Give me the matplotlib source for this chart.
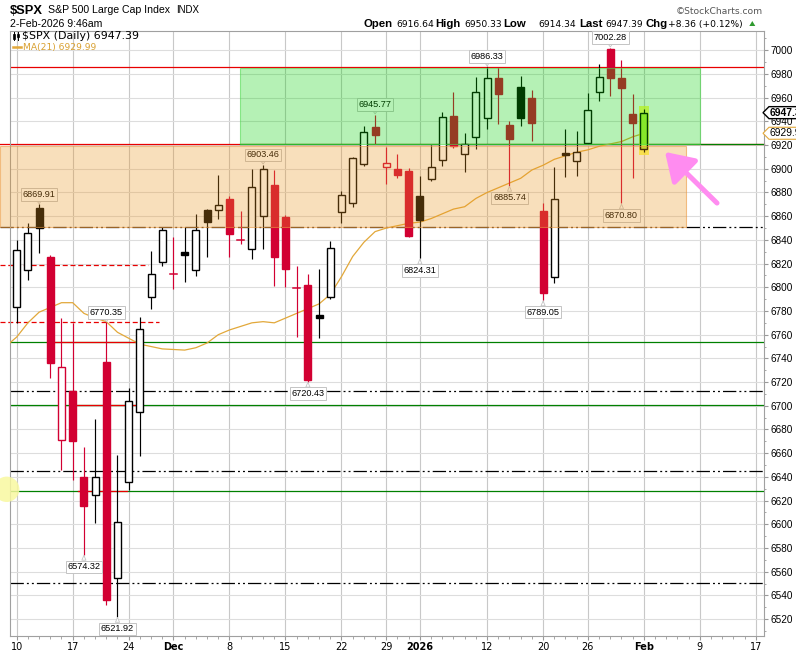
import matplotlib
matplotlib.use("Agg")
import matplotlib.pyplot as plt
from matplotlib.patches import Rectangle, Polygon, Circle, FancyArrowPatch
from matplotlib.lines import Line2D
from matplotlib.transforms import IdentityTransform
import numpy as np
import pandas as pd

plt.rcParams["lines.scale_dashes"] = False

# ---- data ----
holidays = ["2025-11-27", "2025-12-25", "2026-01-01", "2026-01-19", "2026-02-16"]
days = pd.bdate_range("2025-11-10", "2026-02-17")
days = days[~days.isin(pd.to_datetime(holidays))]

prev_close = 6728.0
opens = [6783.6, 6814.6, 6866.7, 6825.8, 6671.1, 6712.7, 6640.2, 6624.5, 6737.2, 6554.4,
         6635.4, 6695.0, 6792.1, 6821.1, 6811.0, 6829.8, 6814.6, 6865.2, 6865.0, 6874.5,
         6839.9, 6832.3, 6860.2, 6886.3, 6859.0, 6799.2, 6801.9, 6776.6, 6791.6, 6863.8,
         6870.9, 6903.8, 6935.5, 6901.8, 6899.8, 6898.1, 6877.0, 6891.1, 6907.4, 6944.6,
         6912.7, 6926.6, 6942.6, 6976.4, 6937.0, 6969.3, 6959.5, 6864.6, 6808.9, 6913.6,
         6906.3, 6922.0, 6964.6, 7001.1, 6976.4, 6946.0, 6916.64]
highs = [6840.0, 6854.0, 6869.91, 6827.3, 6773.8, 6769.6, 6665.5, 6688.6, 6770.35, 6658.5,
         6714.8, 6775.2, 6830.9, 6851.1, 6842.2, 6851.1, 6861.9, 6866.0, 6894.8, 6877.3,
         6864.4, 6899.8, 6903.46, 6899.0, 6861.0, 6818.0, 6811.2, 6815.2, 6839.0, 6881.3,
         6910.2, 6936.1, 6945.77, 6918.6, 6912.2, 6900.4, 6893.9, 6920.1, 6947.7, 6964.6,
         6930.0, 6977.2, 6986.33, 6985.7, 6940.3, 6978.3, 6966.5, 6870.9, 6901.3, 6933.6,
         6931.9, 6964.2, 6988.4, 7002.28, 6991.8, 6963.1, 6950.33]
lows = [6769.6, 6806.2, 6828.7, 6723.5, 6645.8, 6637.4, 6574.32, 6601.3, 6532.0, 6521.92,
        6628.9, 6657.6, 6781.7, 6818.0, 6798.3, 6804.7, 6809.5, 6825.8, 6857.4, 6825.8,
        6836.3, 6823.6, 6832.3, 6801.1, 6800.0, 6758.3, 6720.43, 6757.0, 6790.5, 6854.5,
        6867.5, 6902.5, 6920.9, 6887.2, 6892.0, 6842.5, 6824.31, 6889.9, 6902.4, 6917.3,
        6897.6, 6916.5, 6933.3, 6937.6, 6885.74, 6936.4, 6923.7, 6789.05, 6803.4, 6892.8,
        6894.2, 6920.9, 6957.5, 6961.7, 6870.80, 6892.0, 6914.34]
closes = [6831.5, 6845.6, 6849.8, 6735.9, 6733.0, 6670.5, 6615.4, 6640.2, 6536.0, 6601.7,
          6704.0, 6764.8, 6811.0, 6848.4, 6811.0, 6827.5, 6848.4, 6855.4, 6869.2, 6845.2,
          6839.9, 6884.9, 6899.6, 6825.8, 6815.2, 6799.2, 6721.5, 6773.8, 6832.9, 6877.9,
          6908.9, 6930.8, 6928.5, 6904.6, 6894.8, 6843.3, 6856.8, 6901.1, 6943.5, 6919.5,
          6920.7, 6965.1, 6976.4, 6962.9, 6925.4, 6943.1, 6938.9, 6795.5, 6874.3, 6911.9,
          6914.4, 6949.4, 6977.2, 6976.9, 6967.9, 6939.03, 6947.39]
# MA(21), starting one session before the first candle
ma21 = [6750, 6758, 6770, 6779, 6783, 6787, 6787, 6778, 6774, 6771, 6762,
        6757, 6752, 6750, 6748, 6747.5, 6747, 6749, 6753, 6760, 6764,
        6767, 6770, 6771, 6770, 6774, 6778, 6782, 6786, 6794, 6809,
        6826, 6838, 6847, 6850, 6852, 6854, 6855, 6858, 6862, 6866,
        6868, 6875, 6880, 6884, 6888, 6892, 6899, 6903, 6908, 6911,
        6914, 6916, 6919, 6921, 6923, 6927, 6929.99]

high_notes = [2, 8, 22, 32, 42, 53]
low_notes = [6, 9, 26, 36, 44, 47, 54]

tick_dates = ["2025-11-10", "2025-11-17", "2025-11-24", "2025-12-01", "2025-12-08",
              "2025-12-15", "2025-12-22", "2025-12-29", "2026-01-02", "2026-01-12",
              "2026-01-20", "2026-01-26", "2026-02-02", "2026-02-09", "2026-02-17"]
tick_labels = ["10", "17", "24", "Dec", "8", "15", "22", "29", "2026", "12",
               "20", "26", "Feb", "9", "17"]

green_levels = [6753.6, 6700.7, 6627.8]
dashdot_levels = [6712.7, 6645.0, 6550.7]
red_dashed = [6818.6, 6770.35]
top_resistance = 6986.33
zone_green = (6920.9, 6985.0)
zone_orange = (6851.3, 6919.5)

# ---- figure ----
W, H = 796, 651
fig = plt.figure(figsize=(W / 100, H / 100), dpi=100)
L, R, T, B = 10, 764, 31, 636
ax = fig.add_axes([L / W, 1 - B / H, (R - L) / W, (B - T) / H])
X0, DX = 16.7, 11.2


def xi(px):
    return (px - X0) / DX


ax.set_xlim(xi(L), xi(R))
ax.set_ylim(6505.7, 7016.3)

RED = "#d20032"
BLK = "#000000"
n = len(closes)
prev = [prev_close] + closes[:-1]
bw = 0.64

for i in range(n):
    o, h, l, c = opens[i], highs[i], lows[i], closes[i]
    col = RED if c < prev[i] else BLK
    ax.plot([i, i], [l, h], color=col, lw=0.85, zorder=4, solid_capstyle="butt")
    if abs(c - o) < 0.3:
        ax.plot([i - bw / 2, i + bw / 2], [c, c], color=col, lw=1.1, zorder=5)
        continue
    fc = col if c < o else "white"
    if i == n - 1:
        fc = "#bdf03c"
    ax.add_patch(Rectangle((i - bw / 2, min(o, c)), bw, abs(c - o), fc=fc, ec=col,
                           lw=1.0, zorder=5))

# highlight on the last session
ax.add_patch(Rectangle((n - 1 - 0.45, lows[-1] - 2.5), 0.9, highs[-1] - lows[-1] + 5,
                       fc="#ffff30", ec="none", alpha=0.75, zorder=3.5))

ax.plot(np.arange(-1, n), ma21, color="#e2a83a", lw=0.9, zorder=3)

# levels
full = (xi(L), xi(R))
ax.plot(full, [top_resistance] * 2, color="#e80000", lw=0.9, zorder=2)
ax.plot((xi(0), xi(R)), [zone_green[0]] * 2, color="#e80000", lw=0.9, zorder=2, clip_on=False)
ax.plot((xi(240), xi(R)), [zone_green[0]] * 2, color="#008000", lw=0.9, zorder=2.1)
for lv, x1 in zip(red_dashed, (148, 159)):
    ax.plot((xi(0), xi(x1)), [lv] * 2, color="#e80000", lw=0.9, ls=(0, (3.6, 2.0)),
            zorder=2, clip_on=False)
for lv, seg in zip(green_levels, ((46.7, 138.3), (70, 137), (78, 127))):
    ax.plot(full, [lv] * 2, color="#008000", lw=0.9, zorder=2)
    ax.plot((xi(seg[0]), xi(seg[1])), [lv] * 2, color="#e80000", lw=0.9, zorder=2.1)
dd = (0, (9.6, 2.2, 1.4, 2.2, 1.4, 2.2))
ax.plot((xi(0), xi(R)), [zone_orange[0]] * 2, color=BLK, lw=0.9, ls=dd, zorder=2, clip_on=False)
for lv in dashdot_levels:
    ax.plot(full, [lv] * 2, color=BLK, lw=0.9, ls=dd, zorder=2)


# callouts
def callout(i, v, above):
    off = 10 if above else -12
    ax.annotate(f"{v:.2f}", xy=(i, v), xytext=(0, off * 0.72), textcoords="offset points",
                ha="center", va="center", fontsize=6.6, family="Liberation Sans", zorder=6,
                bbox=dict(boxstyle="square,pad=0.18", fc="white", ec="#c4c4c4", lw=0.7),
                arrowprops=dict(arrowstyle="wedge,tail_width=0.45", fc="white", ec="#c4c4c4",
                                lw=0.6, shrinkA=0, shrinkB=0.5))


for i in high_notes:
    callout(i, highs[i], True)
for i in low_notes:
    callout(i, lows[i], False)

# shaded zones (drawn over everything, translucent)
ax.add_patch(Rectangle((xi(240), zone_green[0]), xi(700) - xi(240), zone_green[1] - zone_green[0],
                       fc=(0.0, 0.82, 0.0, 0.29), ec=(0.3, 0.85, 0.3, 0.6), lw=0.8, zorder=7))
ax.add_patch(Rectangle((xi(0), zone_orange[0]), xi(686) - xi(0), zone_orange[1] - zone_orange[0],
                       fc=(0.92, 0.59, 0.12, 0.3), ec=(0.92, 0.6, 0.25, 0.6), lw=0.8, zorder=7,
                       clip_on=False))

# axes styling
ax.yaxis.tick_right()
ax.set_yticks(np.arange(6520, 7001, 20))
ax.set_yticks(np.arange(6510, 7011, 10), minor=True)
ax.tick_params(axis="y", which="major", length=3, pad=2, labelsize=7.2, color="#999999")
ax.tick_params(axis="y", which="minor", length=1.5, color="#999999")
for t in ax.get_yticklabels():
    t.set_family("Liberation Sans")
tick_idx = [days.get_loc(pd.Timestamp(d)) for d in tick_dates]
ax.set_xticks(tick_idx)
ax.set_xticklabels(tick_labels, fontsize=7, family="DejaVu Sans")
for t in ax.get_xticklabels():
    if not t.get_text().isdigit() or t.get_text() == "2026":
        t.set_fontweight("bold")
ax.set_xticks(np.arange(len(days)), minor=True)
ax.tick_params(axis="x", which="major", length=3, pad=1.5, color="#999999")
ax.tick_params(axis="x", which="minor", length=2, color="#999999")
ax.grid(axis="y", color="#dddddd", lw=0.8, zorder=0)
ax.grid(axis="x", color="#c8c8c8", lw=0.8, zorder=0)
ax.set_axisbelow(True)
for s in ax.spines.values():
    s.set_color("#a0a0a0")
    s.set_linewidth(0.8)


# ---- header and overlays (pixel positions) ----
def ftext(px, py, s, **kw):
    kw.setdefault("family", "Liberation Sans")
    fig.text(px / W, 1 - py / H, s, **kw)


ftext(10, 13.5, "$SPX", fontsize=9.3, fontweight="bold")
ftext(47.7, 13.3, "S&P 500 Large Cap Index", fontsize=7.6)
ftext(175.7, 13.3, "INDX", fontsize=7)
ftext(10, 26.7, "2-Feb-2026 9:46am", fontsize=7.6)
ftext(763, 14.3, "\u00a9StockCharts.com", fontsize=6.6, color="#555555", ha="right",
      family="DejaVu Sans")

chg = closes[-1] - closes[-2]
pieces = [("Open", 363.3, True), (f"{opens[-1]:.2f}", 396, False),
          ("High", 435, True), (f"{highs[-1]:.2f}", 464, False),
          ("Low", 503.3, True), (f"{lows[-1]:.2f}", 538.3, False),
          ("Last", 579.3, True), (f"{closes[-1]:.2f}", 605.7, False),
          ("Chg", 645.3, True), (f"+{chg:.2f} (+{chg / closes[-2] * 100:.2f}%)", 668.3, False)]
for s, px, bold in pieces:
    if bold:
        ftext(px, 26.7, s, fontsize=8.2, fontweight="bold")
    else:
        ftext(px, 26.7, s, fontsize=6.6, family="DejaVu Sans")
fig.add_artist(Polygon([(749.3, H - 26), (755.3, H - 26), (752.3, H - 21)], closed=True,
                       fc="#2e9a2e", ec="none", transform=IdentityTransform()))

# legend
ftext(22, 39, f"$SPX (Daily) {closes[-1]:.2f}", fontsize=7.9, family="DejaVu Sans")
ftext(22.7, 50, f"MA(21) {ma21[-1]:.2f}", fontsize=6.6, family="DejaVu Sans", color="#d9a030")
fig.add_artist(Line2D([12.7, 21], [H - 46.7, H - 46.7], color="#e2a83a", lw=1.8,
                      transform=IdentityTransform()))
for x, y0, y1, b0, b1 in ((14, 32, 40, 33.5, 38.5), (18, 32, 40, 34, 37)):
    fig.add_artist(Line2D([x, x], [H - y0, H - y1], color="k", lw=0.7, transform=IdentityTransform()))
    fig.add_artist(Rectangle((x - 1.2, H - b1), 2.4, b1 - b0, fc="k", ec="k", lw=0.5,
                             transform=IdentityTransform()))

# right-edge value tags (cut by the right edge, as in the source)
for v, ec, bold in ((closes[-1], "k", True), (ma21[-1], "#e2a83a", False)):
    yd = ax.transData.transform((0, v))[1]
    pts = [(763, yd), (769, yd + 6), (800, yd + 6), (800, yd - 6), (769, yd - 6)]
    fig.add_artist(Polygon(pts, closed=True, fc="white", ec=ec, lw=1.0 if bold else 0.8,
                           transform=IdentityTransform(), zorder=10))
    fig.text(769.5 / W, yd / H, f"{v:.2f}", fontsize=7.4, family="Liberation Sans",
             fontweight="bold" if bold else "normal", va="center", zorder=11)

# pink arrow and yellow marker
fig.add_artist(FancyArrowPatch((719, H - 205), (663, H - 150),
                               arrowstyle="-|>,head_length=1.4,head_width=0.9",
                               mutation_scale=12, lw=3.6, color="#ff8cf0",
                               transform=IdentityTransform(), zorder=12))
fig.add_artist(Circle((6.7, H - 489.3), 12.7, fc="#f8f8a0", ec="none", alpha=0.85,
                      transform=IdentityTransform(), zorder=12))

fig.savefig("out.png", dpi=100)
